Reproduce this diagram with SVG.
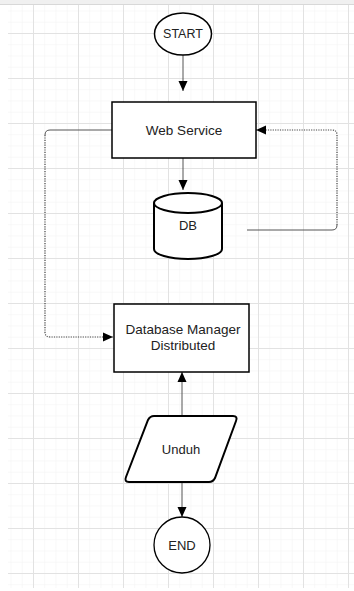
<svg xmlns="http://www.w3.org/2000/svg" width="354" height="591" viewBox="0 0 354 591">
<defs>
<pattern id="minor" patternUnits="userSpaceOnUse" x="33" y="33" width="11.25" height="11.25">
<path d="M0,0 H11.25 M0,0 V11.25" stroke="#f2f2f2" stroke-width="1" fill="none"/>
</pattern>
<pattern id="major" patternUnits="userSpaceOnUse" x="33" y="33" width="45" height="45">
<path d="M0,0.5 H45 M0.5,0 V45" stroke="#e2e2e2" stroke-width="1" fill="none"/>
</pattern>
<marker id="arr" viewBox="0 0 10 10" refX="10" refY="5" markerWidth="10" markerHeight="10" orient="auto" markerUnits="userSpaceOnUse">
<path d="M0,0.5 L10,5 L0,9.5 Z" fill="#000"/>
</marker>
</defs>
<style>
.lbl{font-family:"Liberation Sans",Arial,sans-serif;font-size:13px;fill:#222;text-anchor:middle;dominant-baseline:central}
.shape{fill:#fff;stroke:#000}
.edge{fill:none;stroke:#555;stroke-width:1}
.dot{fill:none;stroke:#444;stroke-width:1.2;stroke-dasharray:1.2 1.2}
</style>
<rect width="354" height="591" fill="#fff"/>
<rect x="8" y="4" width="346" height="584" fill="url(#minor)"/>
<rect x="8" y="4" width="346" height="584" fill="url(#major)"/>
<rect x="0" y="0" width="354" height="4" fill="#f0f0f0"/>
<line x1="0" y1="4.5" x2="354" y2="4.5" stroke="#d8d8d8"/>

<g id="connectors">
<line class="edge" x1="183" y1="55" x2="183" y2="91" marker-end="url(#arr)"/>
<line class="edge" x1="183" y1="158" x2="183" y2="190" marker-end="url(#arr)"/>
<path class="edge" d="M112,130 H50 Q45,130 45,135"/>
<path class="dot" d="M45,135 V332 Q45,337 50,337 H113" marker-end="url(#arr)"/>
<path class="edge" d="M247,230 H332 Q337,230 337,225"/>
<path class="dot" d="M337,225 V135 Q337,130 332,130 H256" marker-end="url(#arr)"/>
<line class="edge" x1="182" y1="416" x2="182" y2="372" marker-end="url(#arr)"/>
<line class="edge" x1="182" y1="482" x2="182" y2="517" marker-end="url(#arr)"/>
</g>

<g id="start">
<ellipse class="shape" cx="183" cy="34" rx="28.5" ry="21" stroke-width="1.5"/>
<text class="lbl" x="183" y="34" style="font-size:12.5px">START</text>
</g>

<g id="web-service">
<rect class="shape" x="112" y="102" width="144" height="56" stroke-width="1.5"/>
<text class="lbl" x="184" y="130" style="font-size:13.5px">Web Service</text>
</g>

<g id="db">
<path class="shape" d="M154,203 V249 A34,10 0 0 0 222,249 V203" stroke-width="2"/>
<ellipse class="shape" cx="188" cy="203" rx="34" ry="10" stroke-width="2"/>
<text class="lbl" x="188" y="225">DB</text>
</g>

<g id="dbm">
<rect class="shape" x="114" y="304" width="135" height="68" stroke-width="1.5"/>
<text class="lbl" x="183" y="329" style="font-size:13.5px">Database Manager</text>
<text class="lbl" x="183" y="345" style="font-size:13.5px">Distributed</text>
</g>

<g id="unduh">
<path class="shape" d="M154,416 H233 Q238,416 236,421 L215,478 Q213,482 209,482 H129 Q124,482 126,477 L148,420 Q150,416 154,416 Z" stroke-width="2"/>
<text class="lbl" x="181" y="449">Unduh</text>
</g>

<g id="end">
<circle class="shape" cx="182" cy="545" r="28" stroke-width="1.3"/>
<text class="lbl" x="182" y="545">END</text>
</g>
</svg>
